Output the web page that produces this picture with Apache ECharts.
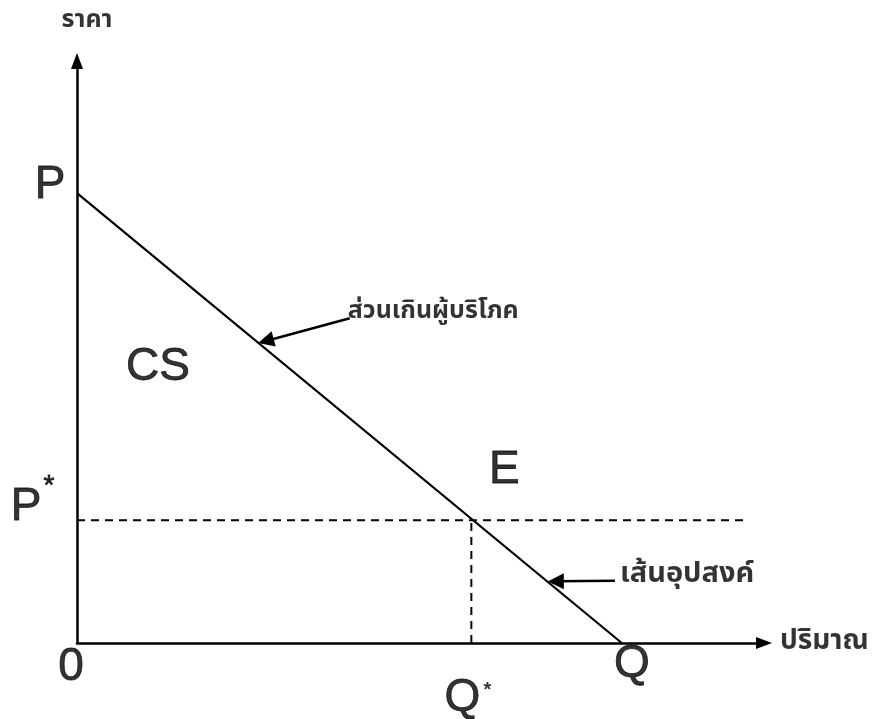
<!DOCTYPE html>
<html>
<head>
<meta charset="utf-8">
<script src="https://cdn.jsdelivr.net/npm/echarts@6/dist/echarts.min.js"></script>
<style>
  html, body { margin: 0; padding: 0; background: #fff; }
  #chart { width: 872px; height: 719px; }
</style>
</head>
<body>
<div id="chart"></div>
<script>
// ค่าที่อ่านจากภาพ (หน่วยสมมติ 0-100)
const pMax = 77.3      // P : จุดตัดแกนราคา
const qMax = 79.3      // Q : จุดตัดแกนปริมาณ
const pStar = 21.1     // P*
const qStar = 57.4     // Q*
const dashEnd = 97.2   // ปลายเส้นประแนวนอน
const demand = [[0, pMax], [qMax, 0]]
const priceLine = [[0, pStar], [dashEnd, pStar]]
const qtyLine = [[qStar, 0], [qStar, pStar]]
const csArrow = [[39.7, 55.8], [27.5, 51.9]]
const dArrow = [[78.3, 10.7], [69.7, 10.6]]
const csPos = [11.8, 47.3]

const latin = 'Liberation Sans, Arial, sans-serif'
const thai = 'Noto Sans Thai, Loma, Garuda, Norasi, sans-serif'

const chart = echarts.init(document.getElementById('chart'))

function txt (value, text, offset, size, font, align, weight) {
  return {
    value: value,
    label: {
      show: true,
      formatter: text,
      offset: offset,
      fontSize: size,
      fontFamily: font,
      fontWeight: weight || 'normal',
      color: '#000',
      textBorderColor: '#000',
      textBorderWidth: weight ? 0 : 0.8,
      align: align || 'center'
    }
  }
}

const axisBase = {
  type: 'value',
  min: 0,
  max: 100,
  axisTick: { show: false },
  axisLabel: { show: false },
  splitLine: { show: false },
  axisLine: {
    show: true,
    symbol: ['none', 'triangle'],
    symbolSize: [12, 16],
    lineStyle: { color: '#000', width: 2.5 }
  }
}

const option = {
  animation: false,
  backgroundColor: '#fff',
  grid: { left: 77, right: 108, top: 61, bottom: 76 },
  xAxis: axisBase,
  yAxis: axisBase,
  series: [
    {
      // เส้นอุปสงค์
      type: 'line',
      data: demand,
      symbol: 'none',
      lineStyle: { color: '#000', width: 2.2 }
    },
    {
      type: 'line',
      data: priceLine,
      symbol: 'none',
      lineStyle: { color: '#000', width: 2, type: [8, 6] }
    },
    {
      type: 'line',
      data: qtyLine,
      symbol: 'none',
      lineStyle: { color: '#000', width: 2, type: [8, 6] }
    },
    {
      // ลูกศรชี้
      type: 'lines',
      coordinateSystem: 'cartesian2d',
      symbol: ['none', 'triangle'],
      symbolSize: [12, 16],
      lineStyle: { color: '#000', width: 2.5, opacity: 1 },
      data: [{ coords: csArrow }, { coords: dArrow }]
    },
    {
      // ป้ายข้อความ
      type: 'scatter',
      symbolSize: 0,
      clip: false,
      silent: true,
      label: {
        show: true,
        position: 'inside',
        color: '#000',
        verticalAlign: 'middle'
      },
      data: [
        txt([0, pMax], 'P', [-27, -8], 46, latin),
        txt([0, pStar], 'P', [-51, -13], 46, latin),
        txt([0, pStar], '*', [-28, -34], 28, latin),
        txt([0, 0], '0', [-6, 24], 46, latin),
        txt([qMax, 0], 'Q', [10, 21], 46, latin),
        txt([qStar, 0], 'Q', [-9, 55], 46, latin),
        txt([qStar, 0], '*', [16, 47], 20, latin, 'center', 'bold'),
        txt([qStar, pStar], 'E', [33, -50], 46, latin),
        txt(csPos, 'CS', [0, 0], 46, latin),
        txt([0, 100], 'ราคา', [10, -39], 25, thai, 'center', 'bold'),
        txt([100, 0], 'ปริมาณ', [16, 0], 28, thai, 'left', 'bold'),
        txt(csArrow[0], 'ส่วนเกินผู้บริโภค', [-2, -5], 25, thai, 'left', 'bold'),
        txt(dArrow[0], 'เส้นอุปสงค์', [5, -5], 29, thai, 'left', 'bold')
      ]
    }
  ]
}
chart.setOption(option)
</script>
</body>
</html>
